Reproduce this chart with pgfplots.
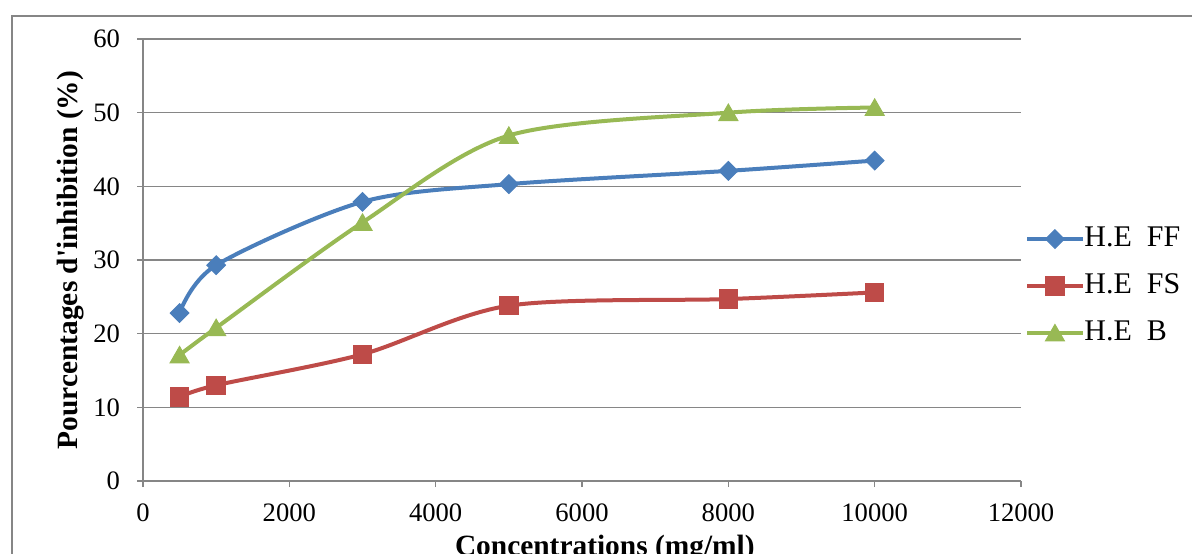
\documentclass[border=0pt]{standalone}
\usepackage{fontspec}
\setmainfont{Liberation Serif}
\usepackage{pgfplots}
\pgfplotsset{compat=1.18}
\definecolor{cFF}{HTML}{4A7EBB}
\definecolor{cFS}{HTML}{BE4B48}
\definecolor{cB}{HTML}{98B954}
\definecolor{gridgray}{HTML}{868686}
\begin{document}
\begin{tikzpicture}
\useasboundingbox (0,0) rectangle (596pt,276.5pt);
\begin{scope}
\clip (0,0) rectangle (596pt,276.5pt);
\draw[gridgray, line width=0.75pt] (6pt,268.5pt) rectangle (610pt,-10pt);
\end{scope}
\begin{axis}[
  at={(71.5pt,36pt)}, anchor=south west,
  scale only axis, width=439pt, height=221pt,
  xmin=0, xmax=12000, ymin=0, ymax=60,
  xtick={0,2000,...,12000}, ytick={0,10,...,60},
  axis x line=bottom, axis y line=left,
  axis line style={-, gridgray, line width=0.75pt},
  ymajorgrids, grid style={gridgray, line width=0.75pt},
  tick align=outside, major tick length=3pt,
  tick style={gridgray, line width=0.75pt},
  /pgf/number format/assume math mode=true,
  /pgf/number format/1000 sep={},
  scaled x ticks=false,
  ticklabel style={font=\fontsize{13.3}{15}\selectfont},
  yticklabel style={xshift=-5pt},
  xticklabel style={yshift=-5pt},
  xlabel={Concentrations (mg/ml)},
  ylabel={Pourcentages d\textquotesingle inhibition (\%)},
  label style={font=\fontsize{14.7}{17}\selectfont\bfseries},
  xlabel style={at={(axis description cs:0.526,-0.1674)}, anchor=base},
  ylabel style={at={(axis description cs:-0.082,0.5)}, anchor=center, rotate=0},
  legend style={at={(axis description cs:1.0046,0.441)}, anchor=west,
    draw=none, fill=none, inner sep=0pt, row sep=10.5pt,
    font=\fontsize{15}{17}\selectfont,
    nodes={inner sep=0pt, text height=10pt, text depth=3pt},
    /tikz/every even column/.append style={column sep=1.5pt}},
  legend cell align=left,
  legend image code/.code={\draw[mark repeat=2,mark phase=2] plot coordinates {(0pt,0pt)(13.75pt,0pt)(27.5pt,0pt)};},
  every axis plot/.append style={line width=2pt, smooth, tension=0.5},
]
\addplot[cFF, mark=square*, mark size=3.3pt, mark options={rotate=45, solid, fill=cFF, draw=cFF, line width=0.5pt}]
  coordinates {(500,22.8) (1000,29.3) (3000,37.9) (5000,40.3) (8000,42.1) (10000,43.5)};
\addlegendentry{H.E\ \ FF}
\addplot[cFS, mark=square*, mark size=4.6pt, mark options={solid, fill=cFS, draw=cFS, line width=0.5pt}]
  coordinates {(500,11.4) (1000,13.0) (3000,17.2) (5000,23.8) (8000,24.7) (10000,25.6)};
\addlegendentry{H.E\ \ FS}
\addplot[cB, mark=triangle*, mark size=5.5pt, mark options={solid, fill=cB, draw=cB, line width=0.5pt, yshift=-1.2pt}]
  coordinates {(500,17.1) (1000,20.8) (3000,35.1) (5000,46.9) (8000,50.0) (10000,50.7)};
\addlegendentry{H.E\ \ B}
\end{axis}
\end{tikzpicture}
\end{document}
